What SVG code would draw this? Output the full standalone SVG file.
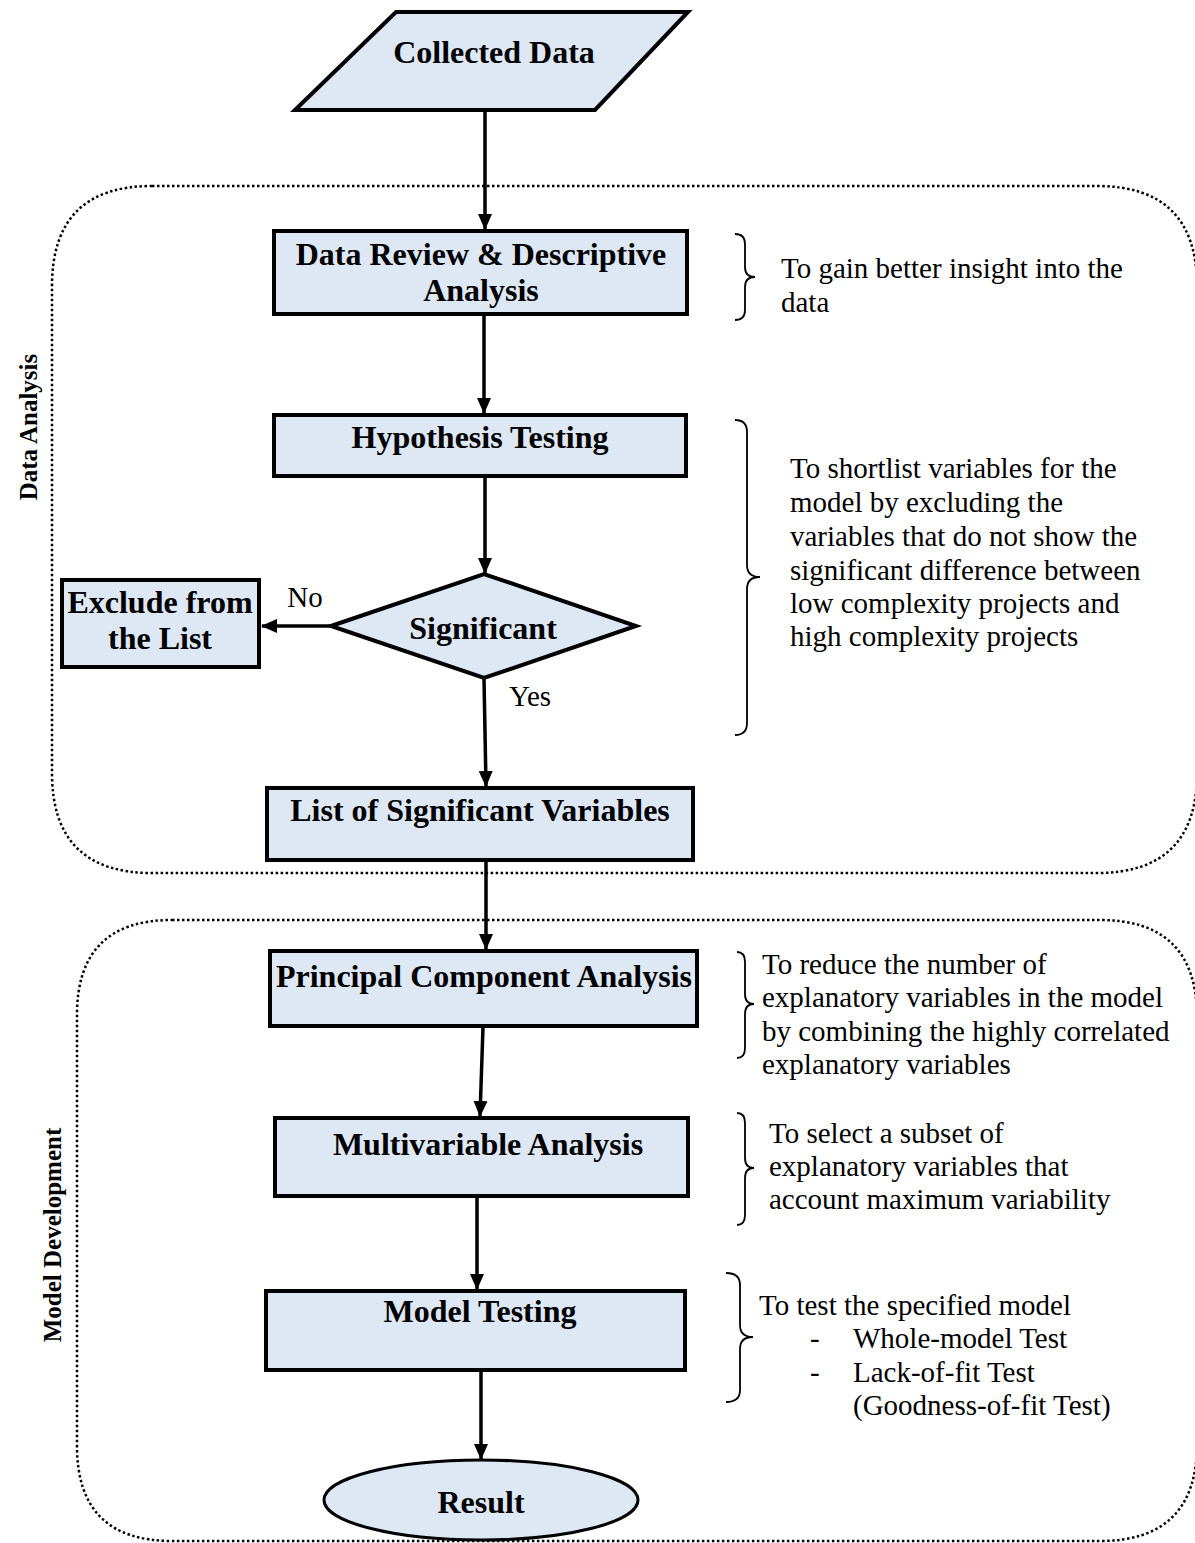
<svg xmlns="http://www.w3.org/2000/svg" width="1195" height="1543" viewBox="0 0 1195 1543">
<defs>
<marker id="arr" markerWidth="16" markerHeight="16" refX="15" refY="8" orient="auto" markerUnits="userSpaceOnUse">
<path d="M0,1 L16,8 L0,15 Z" fill="#000"/>
</marker>
<style>
.node{fill:#dde8f4;stroke:#000;stroke-width:4}
.t{font-family:"Liberation Serif",serif;font-weight:bold;font-size:32px;text-anchor:middle;fill:#000}
.n{font-family:"Liberation Serif",serif;font-size:29px;fill:#000}
.c{stroke:#000;stroke-width:3.5;fill:none}
.box{fill:none;stroke:#000;stroke-width:2.5;stroke-dasharray:2.5 2.5}
.br{fill:none;stroke:#000;stroke-width:1.8}
.side{font-family:"Liberation Serif",serif;font-weight:bold;font-size:25px;text-anchor:middle;fill:#000}
</style>
</defs>
<rect width="1195" height="1543" fill="#fff"/>

<g id="containers">
<path class="box" d="M152,186 L1097,186 Q1197,186 1197,286 L1197,773 Q1197,873 1097,873 L152,873 Q52,873 52,773 L52,286 Q52,186 152,186 Z"/>
<path class="box" d="M172,920 L1100,920 Q1197,920 1197,1017 L1197,1444 Q1197,1541 1100,1541 L172,1541 Q77,1541 77,1446 L77,1015 Q77,920 172,920 Z"/>
<text class="side" transform="translate(37,427) rotate(-90)">Data Analysis</text>
<text class="side" transform="translate(61,1235) rotate(-90)">Model Development</text>
</g>

<g id="connectors">
<line class="c" x1="485" y1="110" x2="485" y2="229" marker-end="url(#arr)"/>
<line class="c" x1="484" y1="315" x2="484" y2="413" marker-end="url(#arr)"/>
<line class="c" x1="485" y1="477" x2="485" y2="573" marker-end="url(#arr)"/>
<line class="c" x1="331" y1="626" x2="262" y2="626" marker-end="url(#arr)"/>
<line class="c" x1="484" y1="678" x2="486" y2="786" marker-end="url(#arr)"/>
<line class="c" x1="486" y1="861" x2="486" y2="949" marker-end="url(#arr)"/>
<line class="c" x1="483" y1="1027" x2="480" y2="1116" marker-end="url(#arr)"/>
<line class="c" x1="477" y1="1197" x2="477" y2="1289" marker-end="url(#arr)"/>
<line class="c" x1="481" y1="1371" x2="481" y2="1459" marker-end="url(#arr)"/>
<text class="n" x="305" y="607" text-anchor="middle">No</text>
<text class="n" x="530" y="706" text-anchor="middle">Yes</text>
</g>

<g id="collected">
<polygon class="node" points="396,12 688,12 595,110 295,110"/>
<text class="t" x="494" y="63">Collected Data</text>
</g>
<g id="review">
<rect class="node" x="274" y="231" width="413" height="83"/>
<text class="t" x="481" y="265">Data Review &amp; Descriptive</text>
<text class="t" x="481" y="301">Analysis</text>
</g>
<g id="hypothesis">
<rect class="node" x="274" y="415" width="412" height="61"/>
<text class="t" x="480" y="448">Hypothesis Testing</text>
</g>
<g id="significant">
<polygon class="node" points="331,626 484,574 636,626 484,678"/>
<text class="t" x="483" y="639">Significant</text>
</g>
<g id="exclude">
<rect class="node" x="62" y="580" width="197" height="87"/>
<text class="t" x="160" y="613">Exclude from</text>
<text class="t" x="160" y="649">the List</text>
</g>
<g id="list">
<rect class="node" x="267" y="788" width="426" height="72"/>
<text class="t" x="480" y="821">List of Significant Variables</text>
</g>
<g id="pca">
<rect class="node" x="270" y="951" width="427" height="75"/>
<text class="t" x="484" y="987">Principal Component Analysis</text>
</g>
<g id="multi">
<rect class="node" x="275" y="1118" width="413" height="78"/>
<text class="t" x="488" y="1155">Multivariable Analysis</text>
</g>
<g id="testing">
<rect class="node" x="266" y="1291" width="419" height="79"/>
<text class="t" x="480" y="1322">Model Testing</text>
</g>
<g id="result">
<ellipse class="node" cx="481" cy="1500" rx="157" ry="40" style="stroke-width:3"/>
<text class="t" x="481" y="1513">Result</text>
</g>

<g id="notes">
<path class="br" d="M735,234 Q745,234 745,244 L745,267 Q745,277 755,277 Q745,277 745,287 L745,310 Q745,320 735,320"/>
<text class="n" x="781" y="278">To gain better insight into the</text>
<text class="n" x="781" y="312">data</text>

<path class="br" d="M735,420 Q747,420 747,432 L747,565 Q747,577 760,577 Q747,577 747,589 L747,723 Q747,735 735,735"/>
<text class="n" x="790" y="478">To shortlist variables for the</text>
<text class="n" x="790" y="512">model by excluding the</text>
<text class="n" x="790" y="546">variables that do not show the</text>
<text class="n" x="790" y="580">significant difference between</text>
<text class="n" x="790" y="613">low complexity projects and</text>
<text class="n" x="790" y="646">high complexity projects</text>

<path class="br" d="M737,952 Q745,952 745,962 L745,994 Q745,1004 754,1004 Q745,1004 745,1014 L745,1048 Q745,1058 737,1058"/>
<text class="n" x="762" y="974">To reduce the number of</text>
<text class="n" x="762" y="1007">explanatory variables in the model</text>
<text class="n" x="762" y="1041">by combining the highly correlated</text>
<text class="n" x="762" y="1074">explanatory variables</text>

<path class="br" d="M737,1113 Q745,1113 745,1123 L745,1158 Q745,1168 754,1168 Q745,1168 745,1178 L745,1215 Q745,1225 737,1225"/>
<text class="n" x="769" y="1143">To select a subset of</text>
<text class="n" x="769" y="1176">explanatory variables that</text>
<text class="n" x="769" y="1209">account maximum variability</text>

<path class="br" d="M726,1273 Q740,1273 740,1285 L740,1325 Q740,1337 753,1337 Q740,1337 740,1349 L740,1390 Q740,1402 726,1402"/>
<text class="n" x="759" y="1315">To test the specified model</text>
<text class="n" x="810" y="1348">-</text>
<text class="n" x="853" y="1348">Whole-model Test</text>
<text class="n" x="810" y="1382">-</text>
<text class="n" x="853" y="1382">Lack-of-fit Test</text>
<text class="n" x="853" y="1415">(Goodness-of-fit Test)</text>
</g>
</svg>
